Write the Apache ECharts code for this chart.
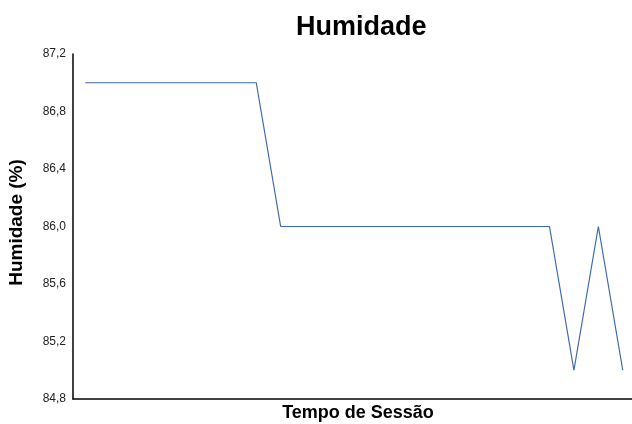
<!DOCTYPE html>
<html>
<head>
<meta charset="utf-8">
<script src="https://cdn.jsdelivr.net/npm/echarts@6/dist/echarts.min.js"></script>
<style>html,body{margin:0;padding:0;background:#fff}#c{width:632px;height:424px}</style>
</head>
<body>
<div id="c"></div>
<script>
const chartTitle = 'Humidade';
const xAxisTitle = 'Tempo de Sessão';
const yAxisTitle = 'Humidade (%)';
const sessionPoints = ['1','2','3','4','5','6','7','8','9','10','11','12','13','14','15','16','17','18','19','20','21','22','23'];
const humidity = [87,87,87,87,87,87,87,87,86,86,86,86,86,86,86,86,86,86,86,86,85,86,85];
const yMin = 84.8, yMax = 87.2, yStep = 0.4;

const font = '"Liberation Sans", Arial, sans-serif';
const chart = echarts.init(document.getElementById('c'), null, {renderer: 'canvas'});
chart.setOption({
  animation: false,
  backgroundColor: '#ffffff',
  title: {
    text: chartTitle, left: 291, top: 9,
    textStyle: {fontFamily: font, fontWeight: 'bold', fontSize: 27, color: '#000'}
  },
  grid: {left: 73, right: -3, top: 54, bottom: 25, containLabel: false, outerBoundsMode: 'none'},
  xAxis: {
    type: 'category', data: sessionPoints, boundaryGap: true,
    name: xAxisTitle, nameLocation: 'middle', nameGap: 5,
    nameTextStyle: {fontFamily: font, fontWeight: 'bold', fontSize: 18, color: '#000', verticalAlign: 'top', padding: [0, 0, 0, 8]},
    axisLine: {lineStyle: {color: '#000', width: 1.5}},
    axisTick: {show: false}, axisLabel: {show: false}, splitLine: {show: false}
  },
  yAxis: {
    type: 'value', min: yMin, max: yMax, interval: yStep,
    name: yAxisTitle, nameLocation: 'middle', nameGap: 47,
    nameTextStyle: {fontFamily: font, fontWeight: 'bold', fontSize: 19, color: '#000', padding: [0, 0, 0, 8]},
    axisLine: {show: true, lineStyle: {color: '#000', width: 1.5}},
    axisTick: {show: false}, splitLine: {show: false},
    axisLabel: {
      fontFamily: font, fontSize: 12, color: '#222', margin: 7,
      formatter: v => v.toFixed(1).replace('.', ',')
    }
  },
  series: [{
    type: 'line', data: humidity, symbol: 'none',
    lineStyle: {color: '#3d6aa8', width: 1.2}
  }]
});
</script>
</body>
</html>
